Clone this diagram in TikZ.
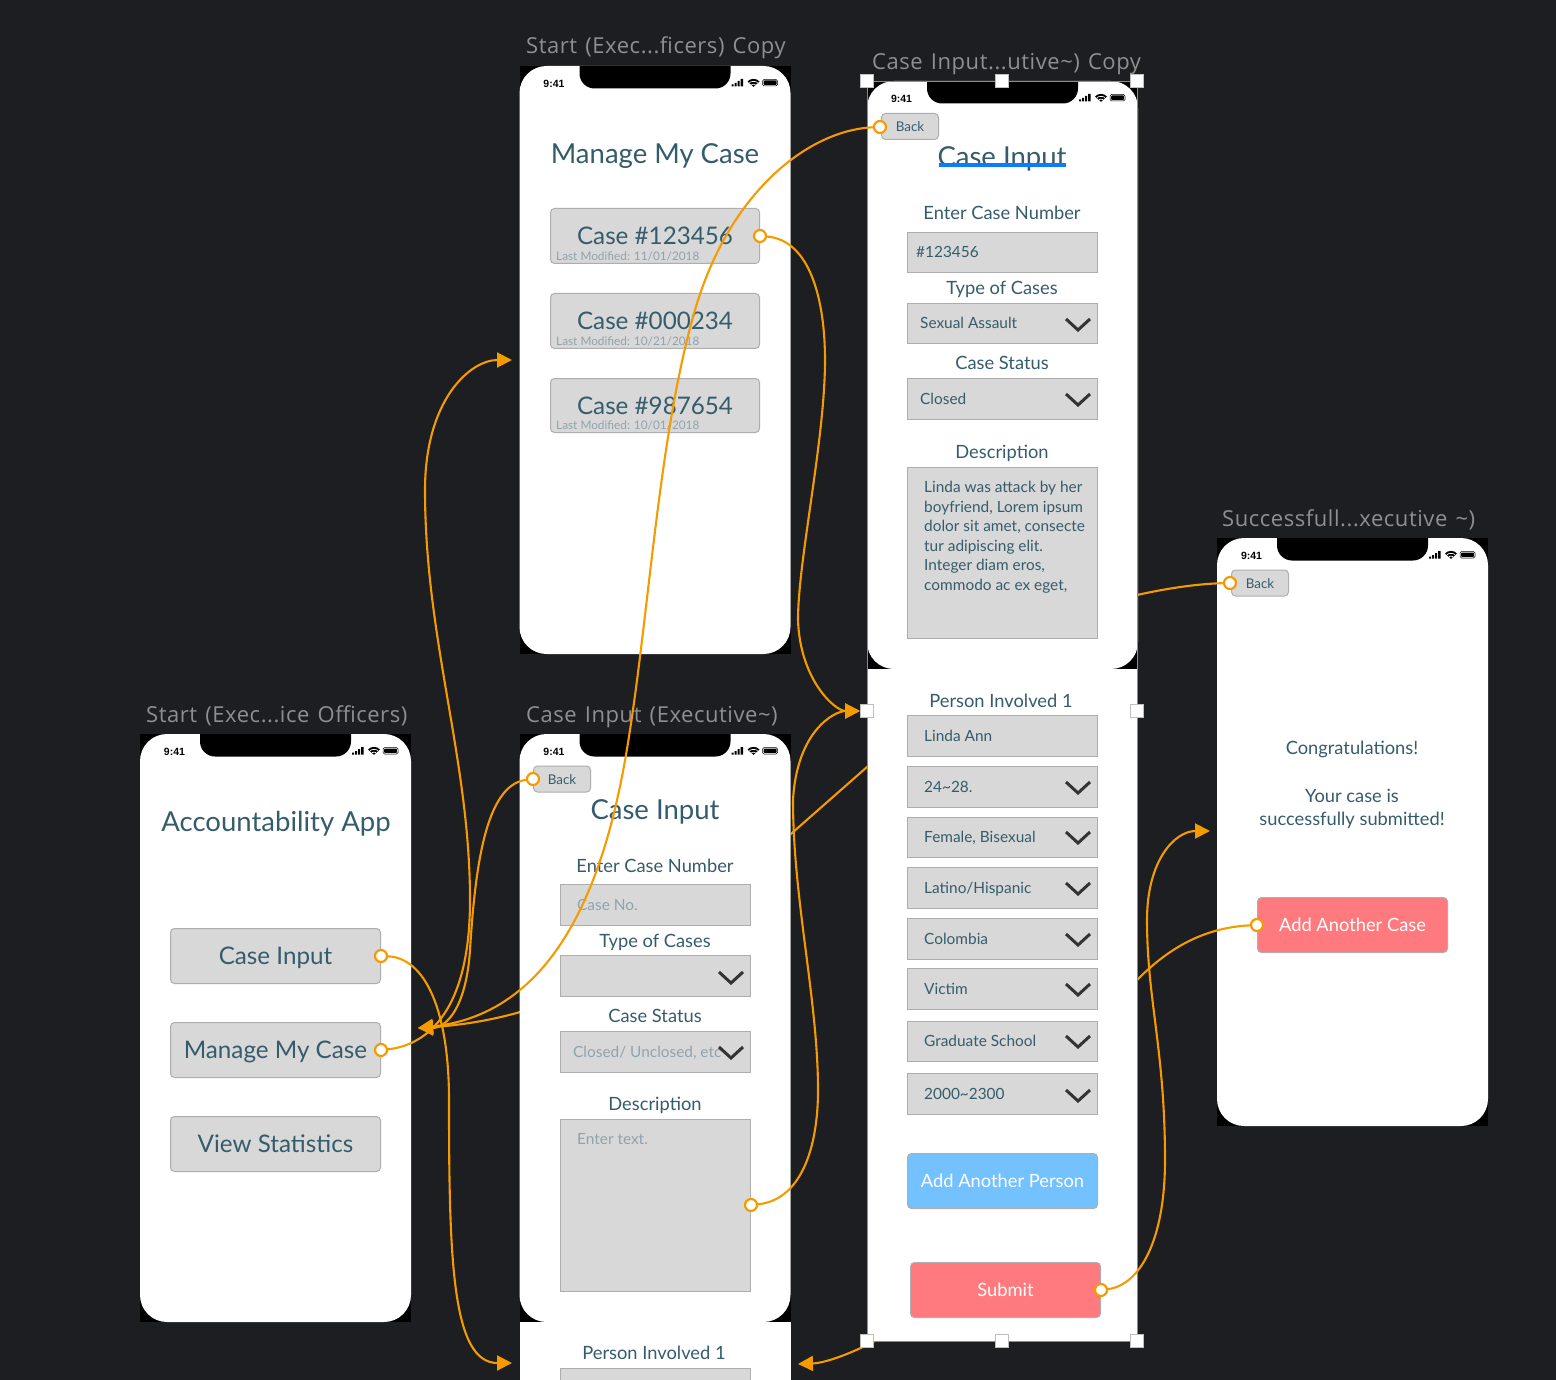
\documentclass[tikz,border=0pt]{standalone}
\usepackage{fontspec}
\setmainfont{Lato}
\newfontfamily\titlefont[LetterSpace=2.5,WordSpace=1.3]{Open Sans}
\newfontfamily\statfont{Liberation Sans}
\usetikzlibrary{arrows.meta}
\newcommand\tld{\char"007E\relax}
\definecolor{bgdark}{HTML}{1C1E21}
\definecolor{teal}{HTML}{355C6B}
\definecolor{soft}{HTML}{8FA3AD}
\definecolor{boxg}{HTML}{D8D8D8}
\definecolor{boxl}{HTML}{AEAEAE}
\definecolor{orng}{HTML}{F59B00}
\definecolor{titleg}{HTML}{8E8F90}
\definecolor{addblue}{HTML}{73C1FF}
\definecolor{salmon}{HTML}{FF7A7E}
\definecolor{ulblue}{HTML}{0A7CFF}
\pgfdeclarelayer{bglayer}\pgfdeclarelayer{phoneE}\pgfdeclarelayer{behind}\pgfdeclarelayer{phones}\pgfdeclarelayer{front}
\pgfsetlayers{bglayer,phoneE,behind,phones,front,main}
\tikzset{
  x=1pt,y=-1pt,
  fieldbox/.style={draw=boxl,fill=boxg,line width=1pt,inner sep=0pt,outer sep=0pt},
  btnbox/.style={fieldbox,rounded corners=4pt},
  ftxt/.style={anchor=base west,inner sep=0pt,text=teal,font=\fontsize{15.4}{17}\selectfont},
  clbl/.style={anchor=base,inner sep=0pt,text=teal,font=\fontsize{18.3}{20}\selectfont},
  heading/.style={anchor=base,inner sep=0pt,text=teal,font=\fontsize{27.5}{30}\selectfont},
  ftitle/.style={anchor=base west,inner sep=0pt,text=titleg,font=\titlefont\fontsize{22}{24}\selectfont},
  port/.style={circle,draw=orng,fill=white,line width=2.2pt,minimum size=12pt,inner sep=0pt},
  link/.style={draw=orng,line width=2.1pt},
  linka/.style={link,-{Triangle[length=15pt,width=15pt]}},
  handle/.style={draw=black!25,fill=white,line width=.5pt,minimum size=13pt,inner sep=0pt},
  chev/.style={draw=black!80,line width=3pt},
  wide/.style={btnbox,minimum width=190pt,minimum height=55pt,text=white,font=\fontsize{18.3}{20}\selectfont},
}
% name, x1, y1, x2, y2
\newcommand\fld[5]{%
  \pgfmathsetmacro\fcx{(#2+#4)/2}\pgfmathsetmacro\fcy{(#3+#5)/2}%
  \pgfmathsetmacro\fw{#4-#2-1}\pgfmathsetmacro\fh{#5-#3-1}%
  \node[fieldbox,minimum width=\fw pt,minimum height=\fh pt] (#1) at (\fcx,\fcy) {};}
% name, x1, y1, x2, y2, text
\newcommand\btn[6]{%
  \pgfmathsetmacro\fcx{(#2+#4)/2}\pgfmathsetmacro\fcy{(#3+#5)/2}%
  \pgfmathsetmacro\fw{#4-#2-1}\pgfmathsetmacro\fh{#5-#3-1}%
  \node[btnbox,minimum width=\fw pt,minimum height=\fh pt] (#1) at (\fcx,\fcy) {};
  \node[anchor=base,inner sep=0pt,text=teal,font=\fontsize{24.2}{26}\selectfont] (#1t) at (\fcx,\fcy+8.5) {#6};}
% name, cx, cy
\newcommand\backbtn[3]{%
  \node[btnbox,minimum width=57pt,minimum height=26pt] (#1) at (#2,#3) {};
  \node[anchor=base,inner sep=0pt,text=teal,font=\fontsize{13.4}{15}\selectfont] (#1t) at (#2,#3+5) {Back};}
% name, x1,y1,x2,y2, textx, text, chevron?
\newcommand\rowtext[8]{%
  \fld{#1}{#2}{#3}{#4}{#5}
  \pgfmathsetmacro\fcy{(#3+#5)/2}%
  \node[ftxt] (#1t) at (#6,\fcy+5.3) {#7};
  #8}
\newcommand\cv[2]{\draw[chev] (#1-12,#2-5) -- (#1,#2+6) -- (#1+12,#2-5);}
% name, x, y
\newcommand\phone[3]{%
  \begin{scope}[shift={(#2,#3)}]
  \fill[black] (0,0) rectangle (271,588);
  \fill[white,rounded corners=27pt] (0,0) rectangle (271,588);
  \fill[black] (60,0) [rounded corners=15pt] -- (60,22.5) -- (211,22.5) [sharp corners] -- (211,0) -- cycle;
  \node[inner sep=0pt,anchor=base,text=black,font=\statfont\bfseries\fontsize{10.5}{12}\selectfont] (#1time) at (34.5,21.5) {9:41};
  \fill[black] (212,18.5) rectangle (214,20.5) (215,17) rectangle (217,20.5) (218,15) rectangle (220,20.5) (221,13) rectangle (223.5,20.5);
  \fill[black] (228,15.5) .. controls (231,12) and (237,12) .. (240,15.5) -- (234,20.8) -- cycle;
  \draw[white,line width=.7pt] (230,16.6) .. controls (232,15) and (236,15) .. (238,16.6) (232,18.6) .. controls (233,18) and (235,18) .. (236,18.6);
  \draw[black,line width=.5pt,rounded corners=1.5pt] (243,13.5) rectangle (258,20);
  \fill[black,rounded corners=1pt] (244,14.5) rectangle (257,19);
  \end{scope}}
\begin{document}
\begin{tikzpicture}
\useasboundingbox (0,0) rectangle (1556,1380);
% ----- ports and handles (top layer)
\node[port] (p1) at (381,956) {};
\node[port] (p2) at (381,1050) {};
\node[port] (p3) at (533,779) {};
\node[port] (p4) at (880,127) {};
\node[port] (p5) at (1230,583) {};
\node[port] (p6) at (1257,925) {};
\node[port] (p7) at (760,236) {};
\node[port] (p8) at (751,1205) {};
\node[port] (p9) at (1101,1290) {};
\foreach \n/\hx/\hy in {h1/867/81,h2/1002/81,h3/1137/81,h4/867/711,h5/1137/711,h6/867/1341,h7/1002/1341,h8/1137/1341}
  \node[handle] (\n) at (\hx,\hy) {};
\coordinate (tMain) at (512,360);
\coordinate (tLeft) at (418,1028);
\coordinate (tPerson) at (512,1363);
\coordinate (tCase) at (860,711);
\coordinate (tDone) at (1210,831);
\coordinate (tBottom) at (798,1364);
\coordinate (w1) at (867,767);
\coordinate (w2) at (792,833);
\begin{pgfonlayer}{bglayer}
  \fill[bgdark] (0,0) rectangle (1556,1380);
\end{pgfonlayer}
\begin{pgfonlayer}{phoneE}
  \node[ftitle] (t5) at (1222,526) {Successfull...xecutive \tld)};
  \phone{pe}{1217}{538}
  \backbtn{e0}{1260}{583}
  \node[clbl] (e1) at (1352,754) {Congratulations!};
  \node[clbl] (e2) at (1352,802) {Your case is};
  \node[clbl] (e3) at (1352,825) {successfully submitted!};
  \node[wide,fill=salmon] (e4) at (1352.5,925) {Add Another Case};
\end{pgfonlayer}
\begin{pgfonlayer}{behind}
  \draw[linka] (p5) .. controls (1190,584) and (1155,591) .. (1137,595) .. controls (1050,618) and (950,695) .. (w1) -- (w2) .. controls (700,915) and (600,1016) .. (tLeft);
  \draw[linka] (p6) .. controls (1195,928) and (1160,957) .. (1137,980) .. controls (1040,1080) and (1000,1290) .. (875,1341) .. controls (850,1354) and (825,1363) .. (tBottom);
\end{pgfonlayer}
\begin{pgfonlayer}{phones}
  % frame titles
  \node[ftitle] (t1) at (146,722) {Start (Exec...ice Officers)};
  \node[ftitle] (t2) at (526,54) {Start (Exec...ficers) Copy};
  \node[ftitle] (t3) at (526,722) {Case Input (Executive\tld)};
  \node[ftitle] (t4) at (872,70) {Case Input...utive\tld) Copy};
  % phone A
  \phone{pa}{140}{734}
  \node[heading] (a0) at (276,831.5) {Accountability App};
  \btn{a1}{170}{928}{381}{984}{Case Input}
  \btn{a2}{170}{1022}{381}{1078}{Manage My Case}
  \btn{a3}{170}{1116}{381}{1172}{View Statistics}
  % phone B
  \phone{pb}{519.5}{66}
  \node[heading] (b0) at (655,163.5) {Manage My Case};
  \btn{b1}{550}{208}{760}{264}{Case \#123456}
  \btn{b2}{550}{293}{760}{349}{Case \#000234}
  \btn{b3}{550}{378}{760}{433}{Case \#987654}
  \foreach \n/\ly/\dt in {m1/260.5/11\slash 01\slash 2018,m2/345.5/10\slash 21\slash 2018,m3/429.5/10\slash 01\slash 2018}
    \node[anchor=base west,inner sep=0pt,text=soft,font=\fontsize{11.8}{14}\selectfont] (\n) at (556,\ly) {Last Modified: \dt};
  % phone C
  \fill[white] (519.5,1300) rectangle (790.5,1385);
  \phone{pc}{519.5}{734}
  \fill[white] (519.5,1322) rectangle (790.5,1385);
  \backbtn{c0}{562}{779}
  \node[heading] (c1) at (655,819.5) {Case Input};
  \node[clbl] (c2) at (655,872) {Enter Case Number};
  \rowtext{c3}{560}{884}{751}{926}{577}{\textcolor{soft}{Case No.}}{}
  \node[clbl] (c4) at (655,947) {Type of Cases};
  \rowtext{c5}{560}{955}{751}{997}{577}{}{\cv{731}{977}}
  \node[clbl] (c6) at (655,1022) {Case Status};
  \rowtext{c7}{560}{1031}{751}{1073}{573}{\textcolor{soft}{Closed/ Unclosed, etc}}{\cv{731}{1052}}
  \node[clbl] (c8) at (655,1110) {Description};
  \fld{c9}{560}{1119}{751}{1292}
  \node[ftxt,text=soft] (c9t) at (577,1144) {Enter text.};
  \node[clbl] (c10) at (654,1359) {Person Involved 1};
  \fld{c11}{560}{1368}{751}{1400}
  % phone D
  \fill[white] (867,669) rectangle (1137.5,1341);
  \phone{pd}{867}{81}
  \draw[black!45,line width=.8pt] (867,81) rectangle (1137.5,1341);
  \backbtn{d0}{910}{126.5}
  \node[heading] (d1) at (1002,167) {Case Input};
  \draw[ulblue,line width=3.2pt] (939,165) -- (1066,165);
  \node[clbl] (d2) at (1002,220) {Enter Case Number};
  \rowtext{d3}{907}{232}{1098}{273}{916}{\#123456}{}
  \node[clbl] (d4) at (1002,295) {Type of Cases};
  \rowtext{d5}{907}{303}{1098}{344}{920}{Sexual Assault}{\cv{1078}{324}}
  \node[clbl] (d6) at (1002,370) {Case Status};
  \rowtext{d7}{907}{378}{1098}{420}{920}{Closed}{\cv{1078}{399}}
  \node[clbl] (d8) at (1002,458) {Description};
  \fld{d9}{907}{467}{1098}{639}
  \node[anchor=north west,inner sep=0pt,text=teal,align=left,font=\fontsize{15.4}{19.6}\selectfont] (d9t) at (924,481) {Linda was attack by her\\boyfriend, Lorem ipsum\\dolor sit amet, consecte\\tur adipiscing elit.\\Integer diam eros,\\commodo ac ex eget,};
  \node[clbl] (d10) at (1001,707) {Person Involved 1};
  \rowtext{d11}{907}{715}{1098}{757}{924}{Linda Ann}{}
  \rowtext{d12}{907}{766}{1098}{808}{924}{24\tld 28.}{\cv{1078}{787}}
  \rowtext{d13}{907}{817}{1098}{858}{924}{Female, Bisexual}{\cv{1078}{837}}
  \rowtext{d14}{907}{867}{1098}{909}{924}{Latino/Hispanic}{\cv{1078}{888}}
  \rowtext{d15}{907}{918}{1098}{960}{924}{Colombia}{\cv{1078}{939}}
  \rowtext{d16}{907}{968}{1098}{1010}{924}{Victim}{\cv{1078}{989}}
  \rowtext{d17}{907}{1021}{1098}{1062}{924}{Graduate School}{\cv{1078}{1041}}
  \rowtext{d18}{907}{1073}{1098}{1115}{924}{2000\tld 2300}{\cv{1078}{1095}}
  \node[wide,fill=addblue] (d19) at (1002.5,1181) {Add Another Person};
  \node[wide,fill=salmon] (d20) at (1005.5,1290) {Submit};
\end{pgfonlayer}
\begin{pgfonlayer}{front}
  \draw[linka] (p1) .. controls (425,958) and (449,1010) .. (449,1100) .. controls (449,1260) and (452,1363) .. (tPerson);
  \draw[linka] (p2) .. controls (420,1046) and (470,1020) .. (470,900) .. controls (470,760) and (425,640) .. (425,490) .. controls (425,400) and (470,360) .. (tMain);
  \draw[linka] (p3) .. controls (485,785) and (475,870) .. (470,950) .. controls (466,1010) and (445,1028) .. (tLeft);
  \draw[linka] (p4) .. controls (810,130) and (730,190) .. (695,310) .. controls (660,430) and (650,600) .. (630,730) .. controls (612,850) and (570,1012) .. (tLeft);
  \draw[linka] (p7) .. controls (810,240) and (825,300) .. (825,360) .. controls (825,440) and (798,560) .. (798,620) .. controls (800,680) and (835,711) .. (tCase);
  \draw[linka] (p8) .. controls (800,1200) and (818,1150) .. (818,1090) .. controls (818,1000) and (793,900) .. (793,800) .. controls (797,730) and (835,711) .. (tCase);
  \draw[linka] (p9) .. controls (1140,1285) and (1165,1240) .. (1165,1160) .. controls (1165,1050) and (1147,1000) .. (1147,920) .. controls (1147,860) and (1175,831) .. (tDone);
\end{pgfonlayer}
\end{tikzpicture}
\end{document}
